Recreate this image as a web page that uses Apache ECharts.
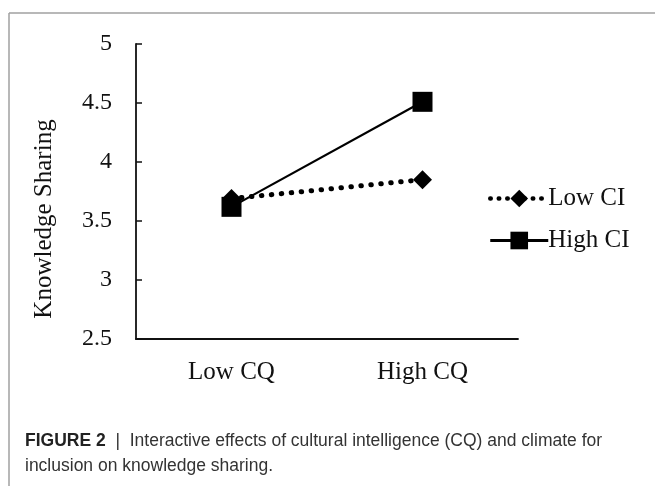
<!DOCTYPE html>
<html>
<head>
<meta charset="utf-8">
<script src="https://cdn.jsdelivr.net/npm/echarts@6/dist/echarts.min.js"></script>
<style>
  html, body { margin: 0; padding: 0; background: #fff; }
  #main { width: 655px; height: 486px; }
</style>
</head>
<body>
<div id="main"></div>
<script>
// data
var categories = ['Low CQ', 'High CQ'];
var lowCI = [3.69, 3.85];
var highCI = [3.62, 4.51];
var yTicks = { min: 2.5, max: 5, step: 0.5 };

var serif = '"Liberation Serif", "Times New Roman", serif';
var sans = '"Liberation Sans", Arial, sans-serif';

var myChart = echarts.init(document.getElementById('main'));

var dotStyle = { color: '#000', width: 5, type: [0.5, 9.5], cap: 'round' };
var solidStyle = { color: '#000', width: 2.2 };

var option = {
    backgroundColor: '#fff',
    animation: false,
    grid: { left: 136, right: 137, top: 44, bottom: 147 },
    legend: {
        orient: 'vertical',
        left: 483,
        top: 181,
        itemWidth: 58,
        itemHeight: 22,
        itemGap: 17,
        textStyle: { fontFamily: serif, fontSize: 25, color: '#111', padding: [0, 0, 0, -5] },
        data: [
            { name: 'Low CI', lineStyle: { width: 4.5, type: [0.5, 8], cap: 'round' } },
            { name: 'High CI', lineStyle: { width: 3 } }
        ]
    },
    xAxis: {
        type: 'category',
        data: categories,
        axisLine: { lineStyle: { color: '#111', width: 1.8 } },
        axisTick: { show: false },
        axisLabel: { fontFamily: serif, fontSize: 25, color: '#111', margin: 21 }
    },
    yAxis: {
        type: 'value',
        min: yTicks.min,
        max: yTicks.max,
        interval: yTicks.step,
        axisLine: { show: true, lineStyle: { color: '#111', width: 1.8 } },
        axisTick: { show: true, inside: true, length: 6, lineStyle: { color: '#111', width: 1.5 } },
        splitLine: { show: false },
        axisLabel: { fontFamily: serif, fontSize: 24, color: '#111', margin: 24 }
    },
    series: [
        {
            name: 'Low CI',
            type: 'line',
            data: lowCI,
            symbol: 'diamond',
            symbolSize: 19,
            itemStyle: { color: '#000' },
            lineStyle: dotStyle
        },
        {
            name: 'High CI',
            type: 'line',
            data: highCI,
            symbol: 'rect',
            symbolSize: 20,
            itemStyle: { color: '#000' },
            lineStyle: solidStyle
        }
    ],
    graphic: [
        { type: 'line', shape: { x1: 9, y1: 13, x2: 655, y2: 13 }, style: { stroke: '#a0a0a0', lineWidth: 1.5 } },
        { type: 'line', shape: { x1: 9, y1: 13, x2: 9, y2: 486 }, style: { stroke: '#a0a0a0', lineWidth: 1.5 } },
        {
            type: 'text',
            x: 44,
            y: 219,
            rotation: Math.PI / 2,
            style: {
                text: 'Knowledge Sharing',
                fontFamily: serif,
                fontSize: 25,
                fill: '#111',
                align: 'center',
                verticalAlign: 'middle'
            }
        },
        {
            type: 'text',
            left: 25,
            top: 429,
            style: {
                text: '{b|FIGURE 2}{s|  |  }Interactive effects of cultural intelligence (CQ) and climate for\ninclusion on knowledge sharing.',
                fontFamily: sans,
                fontSize: 17.5,
                lineHeight: 25,
                fill: '#333',
                rich: {
                    b: { fontFamily: sans, fontSize: 17.5, fontWeight: 'bold', fill: '#222' },
                    s: { fontFamily: sans, fontSize: 17.5, fill: '#333' }
                }
            }
        }
    ]
};

myChart.setOption(option);
</script>
</body>
</html>
